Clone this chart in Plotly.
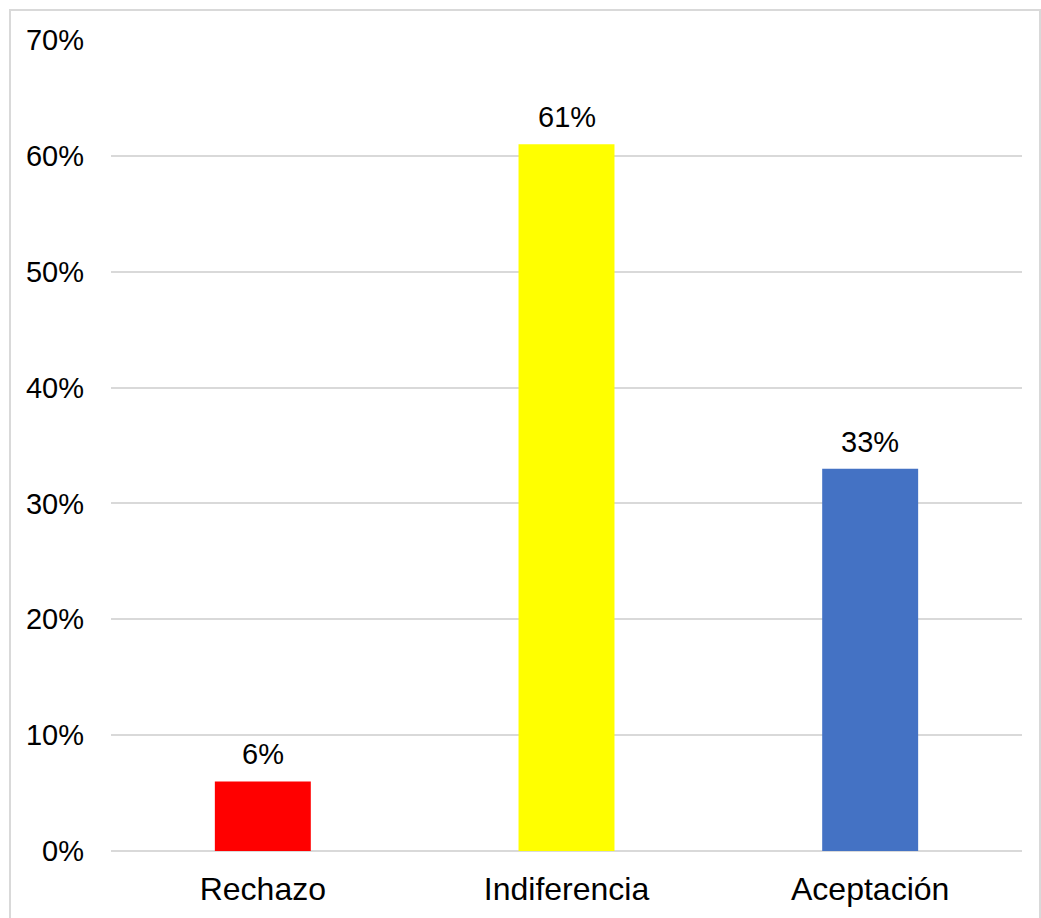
import plotly.graph_objects as go

categories = ["Rechazo", "Indiferencia", "Aceptación"]
values = [6, 61, 33]
colors = ["#FF0000", "#FFFF00", "#4472C4"]
y_ticks = [0, 10, 20, 30, 40, 50, 60, 70]
y_tick_labels = [f"{v}%" for v in y_ticks]

W, H = 1041, 918
ML, MR, MT, MB = 111, 19, 40, 67
PW, PH = W - ML - MR, H - MT - MB

font_family = "Liberation Sans, Arial, sans-serif"
grid_color = "#D9D9D9"

fig = go.Figure(
    go.Bar(
        x=categories,
        y=values,
        marker=dict(color=colors, line=dict(width=0)),
        width=0.316,
        hoverinfo="skip",
    )
)

for cat, val in zip(categories, values):
    fig.add_annotation(
        x=cat, y=val, text=f"{val}%", showarrow=False,
        yanchor="bottom", yshift=9,
        font=dict(family=font_family, size=29, color="#000000"),
    )

# outer chart frame
fig.add_shape(
    type="rect", xref="paper", yref="paper",
    x0=(10 - ML) / PW, x1=(1040 - ML) / PW,
    y0=-(925 - (MT + PH)) / PH, y1=1 + (MT - 10) / PH,
    line=dict(color=grid_color, width=2), fillcolor="rgba(0,0,0,0)",
    layer="below",
)

fig.update_layout(
    width=W, height=H,
    margin=dict(l=ML, r=MR, t=MT, b=MB, pad=0),
    paper_bgcolor="#FFFFFF", plot_bgcolor="#FFFFFF",
    showlegend=False,
    bargap=0.684,
    font=dict(family=font_family, size=29, color="#000000"),
    xaxis=dict(
        showgrid=False, showline=False, zeroline=False,
        ticks="", ticklabelstandoff=16,
        tickfont=dict(size=32),
    ),
    yaxis=dict(
        range=[0, 70], tickvals=y_ticks, ticktext=y_tick_labels,
        showgrid=True, gridcolor=grid_color, gridwidth=2,
        zeroline=True, zerolinecolor=grid_color, zerolinewidth=2,
        showline=False, ticks="", ticklabelstandoff=26,
        tickfont=dict(size=29),
    ),
)

fig.write_html("out.html")
